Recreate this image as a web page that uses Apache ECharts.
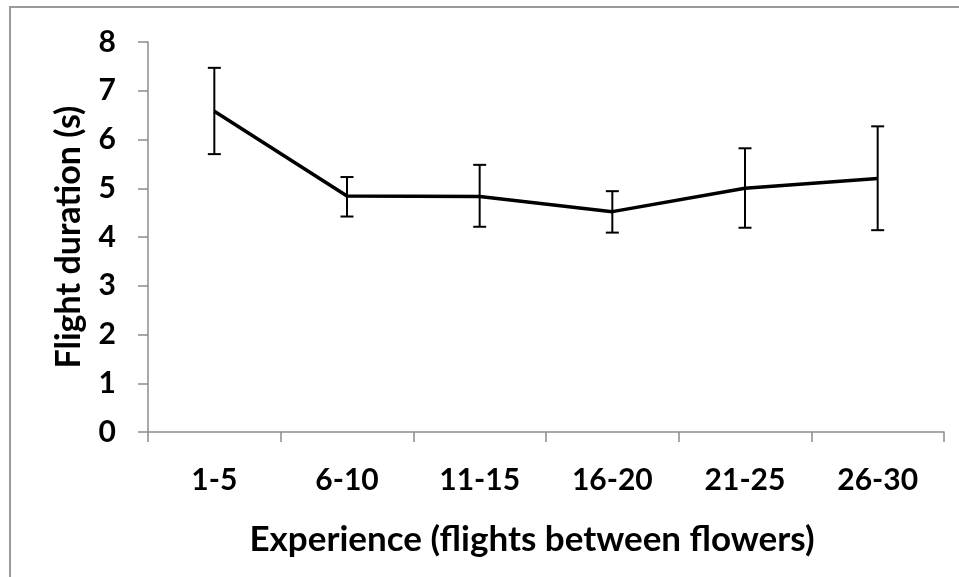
<!DOCTYPE html>
<html>
<head>
<meta charset="utf-8">
<script src="https://cdn.jsdelivr.net/npm/echarts@6/dist/echarts.min.js"></script>
<style>
  html, body { margin: 0; padding: 0; background: #fff; }
  #chart { width: 959px; height: 577px; }
</style>
</head>
<body>
<div id="chart"></div>
<script>
// Flight duration by experience bin, mean with error range
const categories = ['1-5', '6-10', '11-15', '16-20', '21-25', '26-30'];
const meanDuration = [6.58, 4.84, 4.83, 4.52, 5.00, 5.20];
const errUpper = [7.47, 5.23, 5.48, 4.94, 5.82, 6.27];
const errLower = [5.70, 4.42, 4.21, 4.09, 4.19, 4.14];
const yTicks = [0, 1, 2, 3, 4, 5, 6, 7, 8];

const FONT = 'Lato, "Open Sans", sans-serif';
const AXIS_GRAY = '#8c8c8c';

const errorData = categories.map((c, i) => [i, errLower[i], errUpper[i]]);

const chart = echarts.init(document.getElementById('chart'));
chart.setOption({
  animation: false,
  backgroundColor: '#fff',
  textStyle: { fontFamily: FONT },
  graphic: [{
    type: 'rect',
    shape: { x: 10, y: 7, width: 960, height: 600 },
    style: { fill: 'none', stroke: '#9a9a9a', lineWidth: 2 },
    silent: true,
    z: -1
  }],
  grid: { left: 148, right: 15, top: 42, bottom: 145 },
  xAxis: {
    type: 'category',
    data: categories,
    boundaryGap: true,
    name: 'Experience (flights between flowers)',
    nameLocation: 'middle',
    nameGap: 90,
    nameTextStyle: {
      fontFamily: FONT, fontWeight: 'bold', fontSize: 35, color: '#000',
      padding: [0, 28, 0, 0]
    },
    axisLine: { lineStyle: { color: AXIS_GRAY, width: 1.5 } },
    axisTick: { show: true, length: 10, alignWithLabel: false, lineStyle: { color: AXIS_GRAY, width: 1.5 } },
    axisLabel: { fontFamily: FONT, fontWeight: 'bold', fontSize: 30, color: '#000', margin: 33 },
    splitLine: { show: false }
  },
  yAxis: {
    type: 'value',
    min: yTicks[0],
    max: yTicks[yTicks.length - 1],
    interval: 1,
    name: 'Flight duration (s)',
    nameLocation: 'middle',
    nameGap: 62,
    nameRotate: 90,
    nameTextStyle: { fontFamily: FONT, fontWeight: 'bold', fontSize: 34, color: '#000' },
    axisLine: { show: true, lineStyle: { color: AXIS_GRAY, width: 1.5 } },
    axisTick: { show: true, length: 10, lineStyle: { color: AXIS_GRAY, width: 1.5 } },
    axisLabel: { fontFamily: FONT, fontWeight: 'bold', fontSize: 30, color: '#000', margin: 32 },
    splitLine: { show: false }
  },
  series: [
    {
      type: 'line',
      data: meanDuration,
      symbol: 'none',
      lineStyle: { color: '#000', width: 3.5 },
      z: 3
    },
    {
      type: 'custom',
      data: errorData,
      z: 4,
      renderItem: function (params, api) {
        const x = api.value(0);
        const lo = api.coord([x, api.value(1)]);
        const hi = api.coord([x, api.value(2)]);
        const half = 6.5;
        const style = { stroke: '#000', lineWidth: 2, fill: 'none' };
        return {
          type: 'group',
          children: [
            { type: 'line', shape: { x1: hi[0], y1: hi[1], x2: lo[0], y2: lo[1] }, style: style },
            { type: 'line', shape: { x1: hi[0] - half, y1: hi[1], x2: hi[0] + half, y2: hi[1] }, style: style },
            { type: 'line', shape: { x1: lo[0] - half, y1: lo[1], x2: lo[0] + half, y2: lo[1] }, style: style }
          ]
        };
      }
    }
  ]
});
</script>
</body>
</html>
